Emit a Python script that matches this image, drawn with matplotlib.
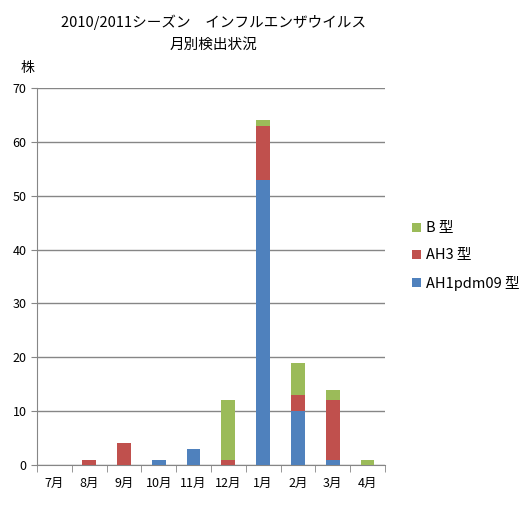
import numpy as np
import matplotlib
matplotlib.use("Agg")
import matplotlib.pyplot as plt

plt.rcParams['font.family'] = ['Noto Sans CJK JP', 'DejaVu Sans']

months = ['7月', '8月', '9月', '10月', '11月', '12月', '1月', '2月', '3月', '4月']
ah1 = [0, 0, 0, 1, 3, 0, 53, 10, 1, 0]
ah3 = [0, 1, 4, 0, 0, 1, 10, 3, 11, 0]
b = [0, 0, 0, 0, 0, 11, 1, 6, 2, 1]

blue = '#4F81BD'
red = '#C0504D'
green = '#9BBB59'

fig = plt.figure(figsize=(5.28, 5.12), dpi=100)
ax = fig.add_axes([0.070, 0.092, 0.659, 0.736])

x = np.arange(len(months))
w = 0.4
ah1 = np.array(ah1)
ah3 = np.array(ah3)
b = np.array(b)
p1 = ax.bar(x, ah1, w, color=blue, label='AH1pdm09 型', zorder=3)
p2 = ax.bar(x, ah3, w, bottom=ah1, color=red, label='AH3 型', zorder=3)
p3 = ax.bar(x, b, w, bottom=ah1 + ah3, color=green, label='B 型', zorder=3)

ax.set_xlim(-0.5, len(months) - 0.5)
ax.set_ylim(0, 70)
ax.set_yticks(range(0, 71, 10))
ax.yaxis.grid(True, color='#868686', linewidth=1)
ax.set_axisbelow(True)
for s in ['top', 'right']:
    ax.spines[s].set_visible(False)
ax.spines['left'].set_color('#868686')
ax.spines['bottom'].set_color('#868686')
ax.set_xticks(x)
ax.set_xticklabels(months, fontsize=9)
ax.set_xticks(np.arange(-0.5, len(months), 1), minor=True)
ax.tick_params(axis='x', which='major', length=0, pad=9)
ax.tick_params(axis='x', which='minor', length=5, color='#868686')
ax.tick_params(axis='y', length=4, color='#868686', labelsize=9)

fig.text(0.405, 0.957, '2010/2011シーズン\u3000インフルエンザウイルス', ha='center', va='center', fontsize=10.5)
fig.text(0.405, 0.912, '月別検出状況', ha='center', va='center', fontsize=10.5)
fig.text(0.053, 0.867, '株', ha='center', va='center', fontsize=10)

ax.legend(handles=[p3, p2, p1], loc='center left', bbox_to_anchor=(0.755, 0.5),
          bbox_transform=fig.transFigure, frameon=False, fontsize=10.5,
          handlelength=0.6, handleheight=0.6, handletextpad=0.4, labelspacing=0.9)

fig.savefig('out.png', dpi=100)
